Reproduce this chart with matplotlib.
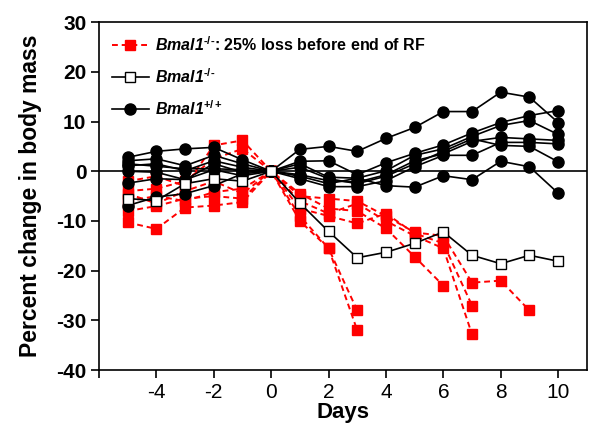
import numpy as np
import matplotlib
matplotlib.use("Agg")
import matplotlib.pyplot as plt

plt.rcParams['font.family'] = ['Liberation Sans', 'DejaVu Sans']
plt.rcParams['mathtext.fontset'] = 'custom'
plt.rcParams['mathtext.rm'] = 'Liberation Sans:bold'
plt.rcParams['mathtext.it'] = 'Liberation Sans:italic:bold'
plt.rcParams['mathtext.bf'] = 'Liberation Sans:bold'
plt.rcParams['mathtext.bfit'] = 'Liberation Sans:italic:bold'

days = [-5, -4, -3, -2, -1, 0, 1, 2, 3, 4, 5, 6, 7, 8, 9, 10]

# Bmal1 +/+ individual mice (percent change)
wt = [
    [2.8, 4.0, 4.5, 4.8, 2.3, 0, 4.4, 5.0, 4.0, 6.6, 8.8, 12.0, 12.0, 15.9, 14.9, 9.8],
    [2.1, 2.5, 1.1, 3.2, 1.5, 0, 2.0, 2.1, -0.7, 1.7, 3.6, 5.3, 7.7, 9.8, 11.2, 12.2],
    [1.1, 1.5, 0.1, 2.1, 0.8, 0, 1.5, -1.2, -1.4, 0.1, 3.2, 4.5, 7.0, 9.2, 10.2, 7.4],
    [0.0, -0.2, -1.7, 1.5, -0.2, 0, -0.7, -1.9, -2.2, -0.7, 2.1, 3.5, 6.0, 6.8, 6.5, 6.2],
    [-2.4, -1.5, -1.7, 0.3, -0.9, 0, -1.5, -3.1, -3.1, -1.9, 0.9, 3.2, 3.2, 5.8, 5.8, 5.5],
    [-6.9, -5.2, -4.5, -2.9, -0.5, 0, -1.0, -2.5, -1.4, -2.9, -3.2, -0.9, -1.7, 2.0, 0.9, -4.4],
    [1.5, 1.0, 0.5, 0.5, 0.3, 0, 0.8, -1.5, -2.5, -1.0, 1.5, 4.0, 6.5, 5.2, 5.0, 1.9],
]

# Bmal1 -/- mice that lost 25% before end of RF (shorter series)
ko_lost = [
    [-4.0, -3.5, -2.0, 2.5, 4.5, 0, -10.0, -15.5, -28.0],
    [-8.0, -7.0, -5.5, -5.0, -5.5, 0, -9.0, -15.5, -32.0],
    [-6.0, -5.0, -6.0, -4.2, -3.5, 0, -4.5, -7.5, -8.0, -11.5, -17.2, -23.0],
    [-2.0, -1.0, -3.0, 5.2, 6.2, 0, -5.0, -5.5, -6.0, -9.0, -12.3, -13.0, -22.4, -22.0, -28.0],
    [-10.3, -11.6, -7.3, -6.9, -6.2, 0, -7.5, -9.0, -10.5, -8.5, -12.5, -14.5, -27.0],
    [-4.5, -6.5, -4.0, -2.0, -4.5, 0, -6.0, -8.5, -6.5, -10.0, -13.0, -15.5, -32.8],
]

# Bmal1 -/- remaining
ko_mean = [-5.5, -5.9, -2.5, -1.5, -2.0, 0, -6.4, -12.1, -17.4, -16.3, -14.5, -12.2, -16.9, -18.6, -16.9, -18.1]

ko_sup = '\u2010/\u2010'
lab_lost = r'$\mathbfit{Bmal1}^{\mathbf{' + ko_sup + r'}}$: 25% loss before end of RF'
lab_ko = r'$\mathbfit{Bmal1}^{\mathbf{' + ko_sup + r'}}$'
lab_wt = r'$\mathbfit{Bmal1}^{\mathbf{+/+}}$'

fig = plt.figure(figsize=(6, 4.24), dpi=100)
ax = fig.add_axes([0.165, 0.127, 0.813, 0.821])

ax.axhline(0, color='black', lw=1.2, zorder=1)

for i, m in enumerate(ko_lost):
    ax.plot(days[:len(m)], m, color='#ff0000', lw=1.4, ls=(0, (3, 2)), marker='s', ms=7.5,
            mfc='#ff0000', mec='#ff0000', zorder=2, label=lab_lost if i == 0 else None)

ax.plot(days, ko_mean, '-', color='black', lw=1.2, marker='s', ms=7, mfc='white',
        mec='black', mew=1.0, zorder=4, label=lab_ko)

for i, m in enumerate(wt):
    ax.plot(days, m, '-', color='black', lw=1.2, marker='o', ms=8, mfc='black',
            mec='black', zorder=3, label=lab_wt if i == 0 else None)

ax.set_xlim(-6, 11)
ax.set_ylim(-40, 30)
ax.set_xticks([-6, -4, -2, 0, 2, 4, 6, 8, 10])
ax.set_xticklabels(['', '-4', '-2', '0', '2', '4', '6', '8', '10'], fontsize=15)
ax.set_yticks(np.arange(-40, 31, 10))
ax.set_yticklabels([str(v) for v in range(-40, 31, 10)], fontsize=15, fontweight='bold')
ax.tick_params(direction='out', length=6, width=1.2, pad=3)
for s in ax.spines.values():
    s.set_linewidth(1.2)

ax.set_xlabel('Days', fontsize=16, fontweight='bold', labelpad=0)
ax.set_ylabel('Percent change in body mass', fontsize=16.5, fontweight='bold', labelpad=10)

leg = ax.legend(loc='upper left', frameon=False, handlelength=2.3,
                handletextpad=0.4, labelspacing=0.85, borderaxespad=0.4,
                prop={'weight': 'bold', 'size': 11.5})

fig.savefig('out.png', dpi=100)
